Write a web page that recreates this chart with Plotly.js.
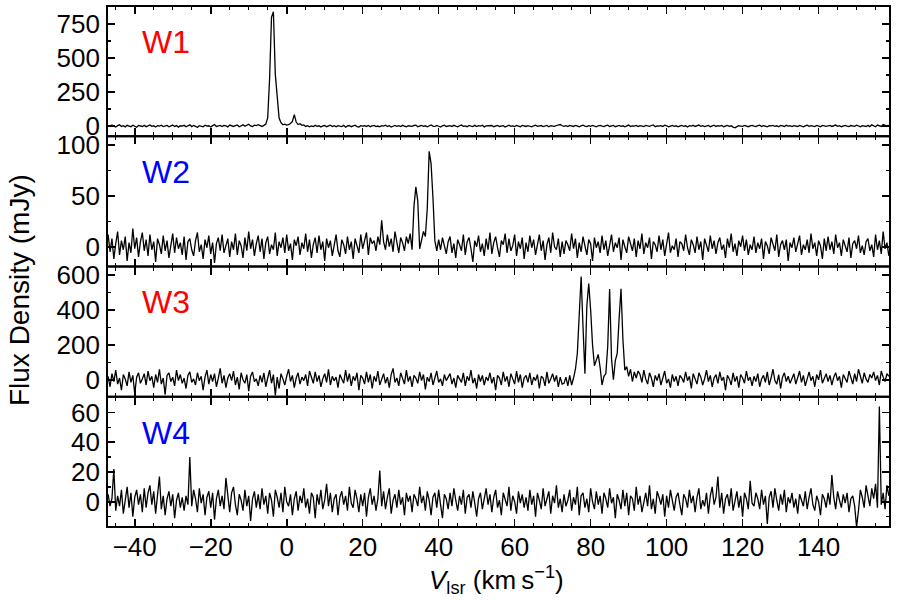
<!DOCTYPE html>
<html>
<head>
<meta charset="utf-8">
<script src="https://cdn.plot.ly/plotly-3.0.1.min.js"></script>
<style>html,body{margin:0;padding:0;background:#fff}#chart{width:900px;height:600px}</style>
</head>
<body>
<div id="chart"></div>
<script>
// Velocity grid of the spectra (km/s): first channel and channel width
const vStart = -47;
const vStep = 0.5;

// Panel names and label colours
const panelNames = ["W1", "W2", "W3", "W4"];
const panelColors = ["#ff0000", "#0000ff", "#ff0000", "#0000ff"];

// Flux density (mJy), one value per channel
const fluxW1 = [
  5,-3,8,2,-6,4,10,-2,3,-5,6,1,-4,7,0,-8,5,3,-2,6,
  -4,2,9,-1,3,-6,4,0,7,-3,2,5,-5,1,8,-2,4,-7,3,0,
  6,-4,2,10,-3,5,-1,-9,4,2,-5,7,0,3,-6,4,12,-2,1,5,
  -3,6,2,-5,8,1,-2,4,9,-4,3,10,-1,5,14,2,-3,7,4,11,
  3,-2,6,15,60,350,800,840,380,240,60,25,10,15,8,12,20,35,85,30,
  12,18,6,9,-2,4,-5,2,-3,6,-1,3,-6,2,5,-4,1,7,-2,3,
  -5,4,0,-3,6,-8,2,5,-4,1,7,-3,-6,4,0,3,-2,5,-4,2,
  6,-3,1,-5,4,0,7,-2,3,-6,2,5,-1,4,-3,6,0,-4,3,1,
  -2,5,8,-4,2,6,-1,3,-5,4,9,0,-3,5,2,-6,3,7,-2,1,
  4,-3,6,0,-5,3,8,-1,2,-4,5,1,-2,6,-3,4,0,7,-5,2,
  3,-1,5,-4,2,6,-2,0,4,-6,3,7,-1,2,-3,5,1,-4,6,0,
  -2,4,1,-5,3,7,-1,2,5,-3,0,6,-4,3,1,-2,5,8,12,3,
  -1,4,-3,6,2,-2,5,0,-4,3,7,1,-3,4,-1,5,2,-5,3,6,
  0,-3,4,7,-2,2,5,-4,1,6,-1,3,-5,4,8,-2,2,0,5,-3,
  4,1,-3,6,2,-1,5,9,-4,2,0,4,-2,7,3,-5,1,6,-1,3,
  -4,2,5,-1,3,-6,4,0,6,-2,3,8,-1,4,-3,2,5,-4,1,7,
  -2,3,0,5,-4,2,6,-1,3,-7,-12,-3,4,1,-2,5,3,-4,2,6,
  1,-3,4,7,-2,3,0,-5,4,2,6,-1,3,-4,5,1,-2,6,0,3,
  -3,4,1,-2,6,3,-5,2,7,-1,4,0,-3,5,2,-4,6,1,-2,3,
  5,-2,3,8,-1,4,-4,2,6,0,-3,5,2,-1,7,3,-5,4,1,-2,
  6,-3,10,2,-4,8,3,-2,12,5,0,7
];

const fluxW2 = [
  12,-5,8,-12,3,15,-8,6,-3,10,-14,4,-6,18,-2,9,-10,5,14,-4,
  7,-9,12,-3,5,-15,8,2,-7,11,-4,6,-11,3,13,-6,9,-2,4,-8,
  10,-13,5,8,-3,-9,6,14,-5,2,-12,7,-1,11,-7,4,-16,3,9,-4,
  12,-6,2,8,-10,5,-3,13,-8,6,1,-11,9,-4,15,-2,7,-9,3,11,
  -5,8,-12,4,10,-7,2,-3,14,-9,5,-1,9,-6,12,-4,3,-13,7,1,
  10,-8,4,-2,13,-5,7,-11,2,9,-6,11,-3,5,-14,8,-1,6,-9,4,
  12,-4,-10,7,2,-7,10,-3,5,-12,8,1,-6,12,-2,6,14,-8,9,3,
  6,-4,10,2,26,5,-3,12,0,8,-5,15,2,-6,9,4,-4,10,3,13,
  -3,40,59,45,-2,8,15,10,38,94,82,48,6,-4,7,-3,9,1,-7,5,
  10,-6,3,-11,7,2,-4,12,-8,5,9,-2,-15,6,0,11,-5,3,-9,8,
  -3,14,-7,4,10,-1,-10,6,2,13,-6,8,-4,1,12,-9,5,-2,9,-12,
  4,-5,11,-1,7,-8,3,12,-4,6,-13,2,9,-6,14,0,-3,8,-10,5,
  -7,6,2,-4,13,-2,8,-11,4,-5,10,1,-8,7,3,-14,9,-1,5,-6,
  11,-3,6,-9,2,12,-5,4,-1,9,-13,7,0,-6,10,3,-4,8,-10,6,
  -2,13,-7,4,-1,9,-12,5,2,-5,11,-3,7,-9,4,14,-6,1,-3,8,
  -10,5,3,-4,12,-1,-8,7,2,-6,10,-3,5,-13,8,1,-5,11,-2,6,
  -7,4,9,-3,2,-11,8,-1,13,-5,3,-9,6,0,11,-4,7,-8,2,-3,
  10,-6,4,-2,8,-12,5,1,-7,9,3,-4,12,-10,2,6,-3,7,-14,4,
  -1,9,-5,3,11,-8,2,-3,7,-6,13,-2,4,-9,6,1,-12,8,-4,10,
  -3,5,-7,12,-1,4,-9,7,2,-5,9,-11,3,6,-2,11,-6,1,-8,5,
  8,-4,2,-10,12,-3,6,-7,15,-2,4,-9
];

const fluxW3 = [
  20,-40,35,-10,55,-25,10,-60,30,5,-35,45,-15,25,-80,15,40,-20,5,35,
  -30,50,-5,20,-45,30,-15,60,-25,10,-85,25,40,-10,15,-35,55,-5,30,-20,
  10,-50,25,45,-15,5,-30,40,-5,20,-60,15,55,-25,30,-10,35,-40,10,65,
  -20,25,-45,10,35,-5,50,-30,15,-55,40,0,-20,30,-65,20,45,-10,5,-35,
  25,-15,40,-40,10,55,-20,30,-90,15,-50,35,5,-30,20,60,-10,25,-45,10,
  40,-25,15,-5,30,-35,50,10,-20,45,-10,25,-40,5,35,-15,60,-30,20,-5,
  15,-45,30,5,-20,55,-10,35,-35,20,-5,40,-60,25,10,-25,45,-15,30,-50,
  20,-10,50,-30,5,35,-20,15,-45,30,65,-15,10,-35,40,0,-25,55,-10,20,
  -40,25,10,-20,45,-5,30,-55,15,-10,40,-30,20,50,-15,5,-35,30,-5,15,
  35,-25,10,-45,25,5,-15,40,-35,20,-5,55,-20,10,-50,30,-10,25,-30,15,
  -5,40,-20,15,-60,25,10,-30,45,-10,20,-40,35,5,-25,50,-15,30,-45,10,
  25,-15,40,-30,15,-5,30,-50,20,10,-35,45,-20,5,35,-10,25,-40,15,-25,
  -20,15,-35,25,-30,10,60,150,380,590,300,35,420,550,400,200,80,110,145,70,
  -30,20,35,190,518,120,0,110,150,350,520,230,55,75,20,60,-10,45,10,50,
  30,-15,55,5,-25,40,10,-40,25,-5,35,-30,15,50,-20,5,-45,30,-10,20,
  -35,25,10,-15,45,-5,20,-50,35,0,-25,40,15,-30,5,55,-10,25,-40,10,
  30,-20,45,-5,15,-60,25,5,-30,40,-10,20,-45,30,10,-20,50,-5,15,-35,
  20,-10,35,-40,5,25,-15,45,-30,10,60,-5,-25,30,-50,15,40,-10,20,-20,
  5,35,-25,15,50,-15,25,-35,10,45,-5,20,-40,30,0,55,-20,10,35,-10,
  25,-30,15,40,-5,20,-45,30,10,-15,50,5,-25,35,-10,60,15,-20,40,5,
  -15,30,10,45,-5,25,-30,50,15,-10,35,20
];

const fluxW4 = [
  5,-3,2,22,-6,4,-3,8,-8,1,10,-4,6,-10,3,8,-2,5,-7,9,
  -4,6,11,-2,7,-8,3,17,-5,4,-9,2,7,-3,5,-11,1,6,-4,3,
  -6,4,-2,30,-3,8,2,-7,9,-1,5,-9,3,7,-4,6,-12,2,8,-3,
  4,-5,16,3,-7,6,10,-2,-9,5,1,-6,8,-3,4,-13,2,7,-4,5,
  -5,9,-2,4,-8,6,1,-10,8,3,-4,6,-7,10,0,-3,5,-9,2,7,
  -6,4,-1,9,-4,2,-8,6,3,-11,5,-2,8,-5,1,12,-3,6,-7,2,
  5,-9,3,7,-2,4,-6,10,-1,-4,8,2,-7,5,-3,6,-10,3,9,-2,
  4,-6,2,21,-3,7,-5,3,9,-8,1,5,-4,8,-2,3,-9,6,0,4,
  -7,5,2,-3,10,-1,4,-6,7,1,-9,3,6,-4,8,-2,-11,5,2,-5,
  6,-3,9,1,-6,4,-2,8,-8,3,5,-4,7,-1,-10,2,6,-5,3,9,
  -2,5,-7,3,8,-4,1,-9,6,2,-3,10,-6,4,0,-8,7,-1,5,-4,
  3,-6,8,-2,4,-10,6,1,-5,9,-3,2,7,-8,4,-1,11,-4,2,-7,
  5,-3,1,8,-6,3,-2,10,-9,4,6,-4,2,-7,9,0,-5,7,-2,4,
  -8,6,2,-4,9,-1,3,-11,5,1,-5,8,-3,6,-9,4,2,-6,10,-2,
  4,-7,1,6,-3,11,-5,2,-8,7,3,-2,5,-10,4,-4,8,1,-6,3,
  6,-2,-9,5,2,-4,8,-1,4,-7,3,9,-5,1,-3,6,-8,4,10,-2,
  3,17,-4,6,-8,2,5,-3,9,-6,1,7,-4,4,-10,6,2,-5,14,-1,
  -3,6,2,-5,8,-2,4,-15,3,7,-4,9,1,-6,5,-2,8,-7,3,-1,
  6,-4,2,-8,5,1,-3,7,-5,3,9,-2,-6,4,0,-9,5,2,-4,6,
  -2,18,3,-5,7,1,-4,5,-1,6,-7,2,4,-3,-17,-6,8,3,-4,11,
  5,-3,9,2,12,-4,64,-2,6,-5,11,4
];

// Axis ranges and tick spacing (value units) per panel
const xRange = [-47.3, 158.8];
const yRanges = [[-74, 882], [-19.5, 108.9], [-97, 647], [-17, 70.6]];
const yMajor = [250, 50, 200, 20];
const yMinor = [125, 25, 100, 10];

const FONT = "Liberation Sans, Arial, Helvetica, sans-serif";
const spectra = [fluxW1, fluxW2, fluxW3, fluxW4];

const traces = spectra.map((f, k) => ({
  x: f.map((_, i) => vStart + i * vStep),
  y: f,
  type: "scatter",
  mode: "lines",
  line: {color: "#000", width: 1.3, shape: "linear"},
  xaxis: "x" + (k + 1),
  yaxis: "y" + (k + 1),
  hoverinfo: "skip",
  showlegend: false
}));

const layout = {
  width: 900, height: 600,
  margin: {l: 107, r: 10, t: 6, b: 73},
  paper_bgcolor: "#fff", plot_bgcolor: "#fff",
  font: {family: FONT, size: 26, color: "#000"},
  showlegend: false,
  annotations: [],
  shapes: []
};

for (let k = 0; k < 4; k++) {
  const n = k + 1;
  layout["xaxis" + n] = {
    anchor: "y" + n,
    domain: [0, 1],
    range: xRange,
    showgrid: false, zeroline: false,
    showline: false, mirror: "ticks",
    ticks: "inside", ticklen: 8, tickwidth: 1.6, tickcolor: "#000",
    tick0: 0, dtick: 20,
    minor: {dtick: 5, ticks: "inside", ticklen: 4, tickwidth: 1.3, tickcolor: "#000"},
    showticklabels: n === 4,
    tickfont: {family: FONT, size: 26, color: "#000"},
    ticklabelstandoff: 2
  };
  if (n !== 4) layout["xaxis" + n].matches = "x4";
  layout["yaxis" + n] = {
    anchor: "x" + n,
    domain: [0.75 - 0.25 * k, 1 - 0.25 * k],
    range: yRanges[k],
    showgrid: false, zeroline: false,
    showline: false, mirror: "ticks",
    ticks: "inside", ticklen: 8, tickwidth: 1.6, tickcolor: "#000",
    tick0: 0, dtick: yMajor[k],
    minor: {dtick: yMinor[k], ticks: "inside", ticklen: 4, tickwidth: 1.3, tickcolor: "#000"},
    tickfont: {family: FONT, size: 26, color: "#000"},
    ticklabelstandoff: 6
  };
  layout.shapes.push({
    type: "rect", xref: "paper", yref: "paper", layer: "above",
    x0: 0, x1: 1, y0: 0.75 - 0.25 * k, y1: 1 - 0.25 * k,
    line: {color: "#000", width: 2}, fillcolor: "rgba(0,0,0,0)"
  });
  layout.annotations.push({
    text: panelNames[k], xref: "paper", yref: "paper",
    x: 0.044, y: 0.931 - 0.25 * k, xanchor: "left", yanchor: "middle",
    showarrow: false, borderpad: 0,
    font: {family: FONT, size: 32, color: panelColors[k]}
  });
}

layout.annotations.push({
  text: "Flux Density (mJy)", xref: "paper", yref: "paper",
  x: -0.111, y: 0.455, textangle: -90, xanchor: "center", yanchor: "middle",
  showarrow: false, font: {family: FONT, size: 28, color: "#000"}
});
layout.annotations.push({
  text: "<i>V</i><sub>lsr</sub> (km\u2009s<sup>\u22121</sup>)", xref: "paper", yref: "paper",
  x: 0.497, y: -0.102, xanchor: "center", yanchor: "middle",
  showarrow: false, font: {family: FONT, size: 26, color: "#000"}
});

Plotly.newPlot("chart", traces, layout, {displayModeBar: false, staticPlot: true});
</script>
</body>
</html>
